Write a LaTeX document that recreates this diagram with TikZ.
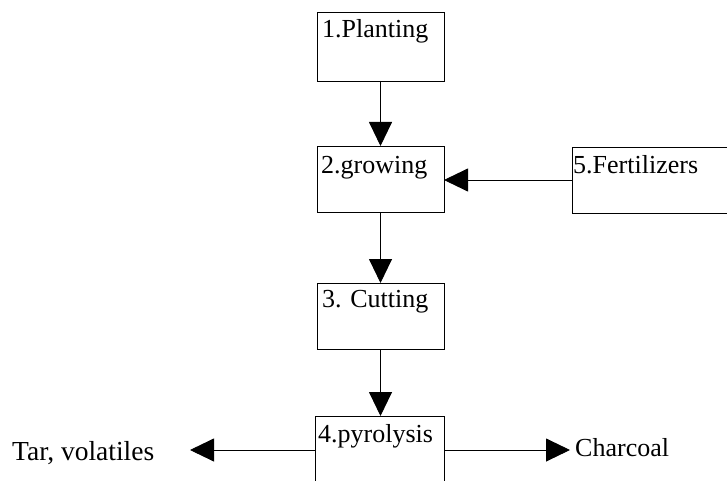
\documentclass[tikz,border=0pt]{standalone}
\usepackage{fontspec}
\setmainfont{Liberation Serif}
\usetikzlibrary{arrows.meta}
\begin{document}
\begin{tikzpicture}[x=1pt, y=-1pt,
  box/.style={draw=black, line width=0.9pt, rectangle, inner sep=0pt, outer sep=0pt},
  lbl/.style={inner sep=0pt, font=\fontsize{26pt}{30pt}\selectfont},
  arr/.style={draw=black, line width=0.9pt, -{Triangle[length=24pt,width=23pt]}}]
\useasboundingbox (0,0) rectangle (727,481);
\clip (0,0) rectangle (727,481);

% process boxes
\node[box, minimum width=127pt, minimum height=69pt] (b1) at (380.5,46.5) {};
\node[box, minimum width=127pt, minimum height=66pt] (b2) at (380.5,179) {};
\node[box, minimum width=127pt, minimum height=66pt] (b3) at (380.5,316) {};
\node[box, minimum width=129pt, minimum height=68pt] (b4) at (379.5,450) {};
\node[box, minimum width=168pt, minimum height=66pt] (b5) at (656,180) {};

% box captions
\node[lbl, anchor=base west] (t1) at ([shift={(5pt,-26pt)}]b1.north west) {1.Planting};
\node[lbl, anchor=base west] (t2) at ([shift={(4pt,-27pt)}]b2.north west) {2.growing};
\node[lbl, anchor=base west] (t3) at ([shift={(5pt,-24pt)}]b3.north west) {3. Cutting};
\node[lbl, anchor=base west] (t4) at ([shift={(3pt,-26pt)}]b4.north west) {4.pyrolysis};
\node[lbl, anchor=base west] (t5) at ([shift={(1pt,-26pt)}]b5.north west) {5.Fertilizers};

% products
\node[lbl, anchor=base west, font=\fontsize{27.5pt}{31pt}\selectfont] (tar) at (12,460) {Tar, volatiles};
\node[lbl, anchor=base west] (coal) at (575,456) {Charcoal};
\coordinate (tarend) at (190,450);
\coordinate (coalend) at (570,450);

% flow
\draw[arr] (b1.south) -- (b2.north);
\draw[arr] (b2.south) -- (b3.north);
\draw[arr] (b3.south) -- (b3.south |- b4.north);
\draw[arr] (b5.west) -- (b5.west -| b2.east);
\draw[arr] (b4.west) -- (tarend);
\draw[arr] (b4.east) -- (coalend);
\end{tikzpicture}
\end{document}
